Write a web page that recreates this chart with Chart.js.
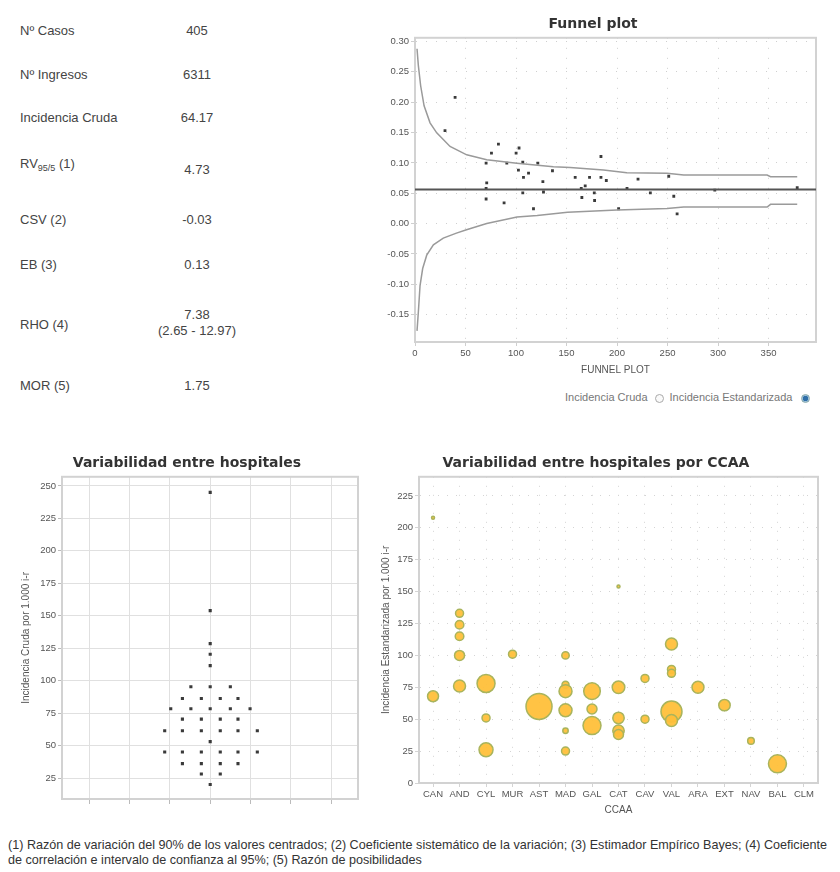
<!DOCTYPE html>
<html>
<head>
<meta charset="utf-8">
<script src="https://cdn.jsdelivr.net/npm/chart.js@4"></script>
<style>
html,body{margin:0;padding:0;background:#fff;}
body{width:840px;height:872px;position:relative;overflow:hidden;font-family:"Liberation Sans",Arial,sans-serif;color:#444;}
.t{position:absolute;font-size:13px;line-height:16px;white-space:nowrap;}
.v{position:absolute;font-size:13px;line-height:16px;white-space:nowrap;width:120px;left:137px;text-align:center;}
canvas{position:absolute;}
#legend{position:absolute;left:565px;top:390px;font-size:11px;color:#777;white-space:nowrap;line-height:14px;}
.radio{display:inline-block;width:9px;height:9px;border-radius:50%;border:1px solid #aaa;vertical-align:-2px;margin:0 6px 0 7px;box-sizing:border-box;background:#fafafa;}
.radio.on{background:radial-gradient(circle,#2f6fa8 0 2.5px,#9fc0dd 3px);border-color:#8aa;}
#foot{position:absolute;left:8px;top:838px;font-size:12.6px;line-height:15px;color:#333;white-space:nowrap;}
sub{font-size:9px;vertical-align:-3px;}
</style>
</head>
<body>
<div class="t" style="left:20px;top:23px">Nº Casos</div><div class="v" style="top:23px">405</div>
<div class="t" style="left:20px;top:67px">Nº Ingresos</div><div class="v" style="top:67px">6311</div>
<div class="t" style="left:20px;top:110px">Incidencia Cruda</div><div class="v" style="top:110px">64.17</div>
<div class="t" style="left:20px;top:156px">RV<sub>95/5</sub> (1)</div><div class="v" style="top:162px">4.73</div>
<div class="t" style="left:20px;top:212px">CSV (2)</div><div class="v" style="top:212px">-0.03</div>
<div class="t" style="left:20px;top:257px">EB (3)</div><div class="v" style="top:257px">0.13</div>
<div class="t" style="left:20px;top:317px">RHO (4)</div><div class="v" style="top:307px">7.38<br>(2.65 - 12.97)</div>
<div class="t" style="left:20px;top:378px">MOR (5)</div><div class="v" style="top:378px">1.75</div>

<canvas id="funnel" width="460" height="380" style="left:370px;top:0px"></canvas>
<div id="legend">Incidencia Cruda<span class="radio"></span>Incidencia Estandarizada<span class="radio on" style="margin-left:9px"></span></div>

<canvas id="hosp" width="370" height="370" style="left:0px;top:440px"></canvas>
<canvas id="ccaa" width="460" height="380" style="left:374px;top:440px"></canvas>

<div id="foot">(1) Razón de variación del 90% de los valores centrados; (2) Coeficiente sistemático de la variación; (3) Estimador Empírico Bayes; (4) Coeficiente<br>de correlación e intervalo de confianza al 95%; (5) Razón de posibilidades</div>

<script>
// ---------- Funnel plot data ----------
const funnelX = [29.7, 39.7, 70.4, 71, 70.4, 70.4, 75.7, 82.6, 88.2, 90.9, 100.1, 103, 102.4, 106.7, 107.4, 106.7, 112.4, 117.3, 121.6, 126.6, 127.2, 136.1, 158.6, 164.6, 165.2, 168.5, 172.8, 177.5, 177.8, 184.1, 184.1, 189.4, 201.6, 209.9, 220.8, 233, 251.2, 256.2, 259.5, 296.8, 378.4];
const funnelY = [0.153, 0.208, 0.0995, 0.067, 0.058, 0.0405, 0.116, 0.131, 0.034, 0.0995, 0.116, 0.1245, 0.088, 0.101, 0.076, 0.0505, 0.083, 0.0245, 0.0995, 0.069, 0.052, 0.087, 0.076, 0.058, 0.043, 0.062, 0.076, 0.0505, 0.038, 0.1105, 0.076, 0.071, 0.0245, 0.058, 0.0733, 0.0505, 0.078, 0.045, 0.016, 0.055, 0.059];
const upperLimitX = [2, 3.3, 5.6, 9, 14.9, 21.5, 34.7, 51.2, 71, 100.8, 137, 153.6, 186.6, 209.7, 249.5, 266, 348.6, 352, 378.4];
const upperLimitY = [0.288, 0.2605, 0.227, 0.194, 0.166, 0.1495, 0.127, 0.1133, 0.105, 0.0995, 0.0938, 0.0922, 0.0883, 0.0839, 0.0828, 0.080, 0.080, 0.0772, 0.0772];
const lowerLimitX = [2, 3.3, 5, 7.6, 11.6, 18.2, 28, 41, 51, 71, 101, 121, 151, 200, 249.5, 266, 348.6, 352, 378.4];
const lowerLimitY = [-0.1767, -0.146, -0.102, -0.074, -0.052, -0.035, -0.024, -0.0157, -0.01, 0.0, 0.011, 0.0135, 0.0185, 0.0225, 0.025, 0.0272, 0.0272, 0.0317, 0.0317];
const funnelMean = 0.056;
const funnelXRange = [0, 397];
const funnelYRange = [-0.195, 0.306];

// ---------- Variabilidad entre hospitales ----------
const hospJitter = [0, 0, 0, 0, 0,
  -0.48, 0, 0.50,
  -0.69, -0.22, 0.25, 0.69,
  -0.98, -0.48, 0, 0.50, 0.99,
  -0.69, -0.22, 0.25, 0.69,
  -1.13, -0.69, -0.22, 0.25, 0.69, 1.17,
  0,
  -1.13, -0.69, -0.22, 0.25, 0.69, 1.17,
  -0.69, -0.22, 0.25, 0.69,
  -0.22, 0.25,
  0];
const hospIncidence = [245, 154, 128.6, 120.4, 111.7,
  95.4, 95.4, 95.4,
  86.4, 86.4, 86.4, 86.4,
  78.5, 78.5, 78.5, 78.5, 78.5,
  70.5, 70.5, 70.5, 70.5,
  61.5, 61.5, 61.5, 61.5, 61.5, 61.5,
  53.2,
  45.2, 45.2, 45.2, 45.2, 45.2, 45.2,
  36.2, 36.2, 36.2, 36.2,
  28.2, 28.2,
  20.2];
const hospYRange = [9, 257];
const hospXRange = [-3.68, 3.67];

// ---------- Variabilidad por CCAA ----------
const ccaaLabels = ['CAN', 'AND', 'CYL', 'MUR', 'AST', 'MAD', 'GAL', 'CAT', 'CAV', 'VAL', 'ARA', 'EXT', 'NAV', 'BAL', 'CLM'];
const bubbleRegion = [0, 0, 1, 1, 1, 1, 1, 2, 2, 2, 3, 4, 5, 5, 5, 5, 5, 5, 6, 6, 6, 7, 7, 7, 7, 7, 8, 8, 9, 9, 9, 9, 9, 10, 11, 12, 13];
const bubbleValue = [208, 68, 133, 124, 115, 100, 76, 78, 51, 26, 101, 60, 100, 77, 72, 57, 41, 25, 72, 58, 45, 154, 75, 51, 41, 38, 82, 50, 109, 89, 86, 56, 49, 75, 61, 33, 15];
const bubbleRadius = [1.5, 5.5, 4, 4.3, 4.3, 5, 6, 9, 4, 7, 4, 13, 3.7, 3.5, 6.5, 6.5, 2.7, 4, 8.3, 5, 9, 1.5, 6.3, 5.7, 5.7, 5, 4, 4, 6, 4, 4, 10.5, 6, 6, 5.7, 3.3, 9];
const ccaaYRange = [0, 240];

// ---------- common ----------
const tickFont = {family: '"Liberation Sans", Arial, sans-serif', size: 9.5};
const titleFont = {family: '"DejaVu Sans", Verdana, sans-serif', size: 14, weight: 'bold'};
const axisTitleFont = {family: '"Liberation Sans", Arial, sans-serif', size: 10};

const framePlugin = {
  id: 'frame',
  beforeDatasetsDraw(chart) {
    const a = chart.chartArea, ctx = chart.ctx;
    ctx.save();
    ctx.strokeStyle = '#d2d2d2';
    ctx.lineWidth = 2;
    ctx.strokeRect(a.left, a.top, a.right - a.left, a.bottom - a.top);
    ctx.restore();
  }
};

function zip(xs, ys) { return xs.map((x, i) => ({x: x, y: ys[i]})); }

// Funnel plot
new Chart(document.getElementById('funnel'), {
  type: 'scatter',
  data: {
    datasets: [
      {data: zip(funnelXRange, [funnelMean, funnelMean]), showLine: true, borderColor: '#555', borderWidth: 2, pointRadius: 0},
      {data: zip(upperLimitX, upperLimitY), showLine: true, borderColor: '#9a9a9a', borderWidth: 1.5, pointRadius: 0},
      {data: zip(lowerLimitX, lowerLimitY), showLine: true, borderColor: '#9a9a9a', borderWidth: 1.5, pointRadius: 0},
      {data: zip(funnelX, funnelY), pointRadius: 2, pointBackgroundColor: '#3a3a3a', pointBorderColor: '#3a3a3a', pointBorderWidth: 0, pointStyle: 'rect'}
    ]
  },
  options: {
    responsive: false, animation: false, devicePixelRatio: 1,
    layout: {padding: {left: 0, right: 14, top: 0, bottom: 0}},
    plugins: {
      legend: {display: false}, tooltip: {enabled: false},
      title: {display: true, text: 'Funnel plot', font: titleFont, color: '#333', padding: {top: 16, bottom: 5}}
    },
    scales: {
      x: {
        type: 'linear', min: funnelXRange[0], max: funnelXRange[1],
        ticks: {stepSize: 50, includeBounds: false, font: tickFont, color: '#555', padding: 2, maxRotation: 0},
        grid: {color: '#cfcfcf', tickLength: 4, drawOnChartArea: true},
        border: {color: '#cfcfcf', dash: [1, 9]},
        title: {display: true, text: 'FUNNEL PLOT', font: axisTitleFont, color: '#555', padding: {top: 2, bottom: 4}},
        afterFit(s) { s.height = 38; }
      },
      y: {
        type: 'linear', min: funnelYRange[0], max: funnelYRange[1],
        ticks: {stepSize: 0.05, includeBounds: false, font: tickFont, color: '#555', padding: 2, callback: v => v.toFixed(2)},
        grid: {color: '#cfcfcf', tickLength: 4},
        border: {color: '#cfcfcf', dash: [1, 9]},
        afterFit(s) { s.width = 45; }
      }
    }
  },
  plugins: [framePlugin]
});

// Variabilidad entre hospitales
new Chart(document.getElementById('hosp'), {
  type: 'scatter',
  data: {
    datasets: [
      {data: zip(hospJitter, hospIncidence), pointRadius: 2.2, pointBackgroundColor: '#3a3a3a', pointBorderColor: '#3a3a3a', pointBorderWidth: 0, pointStyle: 'rect'}
    ]
  },
  options: {
    responsive: false, animation: false, devicePixelRatio: 1,
    layout: {padding: {left: 16, right: 12, top: 0, bottom: 0}},
    plugins: {
      legend: {display: false}, tooltip: {enabled: false},
      title: {display: true, text: 'Variabilidad entre hospitales', font: titleFont, color: '#333', padding: {top: 15, bottom: 5}}
    },
    scales: {
      x: {
        type: 'linear', min: hospXRange[0], max: hospXRange[1],
        ticks: {stepSize: 1, includeBounds: false, display: false},
        grid: {color: '#e0e0e0', tickLength: 5, tickColor: '#bbb'},
        border: {color: '#aaa', width: 2},
        afterFit(s) { s.height = 11; }
      },
      y: {
        type: 'linear', min: hospYRange[0], max: hospYRange[1],
        ticks: {stepSize: 25, includeBounds: false, font: tickFont, color: '#555', padding: 2},
        grid: {color: '#e0e0e0', tickLength: 4, tickColor: '#bbb'},
        border: {color: '#aaa', width: 2},
        title: {display: true, text: 'Incidencia Cruda por 1.000 i-r', font: axisTitleFont, color: '#555', padding: {top: 4, bottom: 2}},
        afterFit(s) { s.width = 46; }
      }
    }
  },
  plugins: [framePlugin]
});

// Variabilidad entre hospitales por CCAA
new Chart(document.getElementById('ccaa'), {
  type: 'bubble',
  data: {
    datasets: [{
      data: bubbleRegion.map((r, i) => ({x: r, y: bubbleValue[i], r: bubbleRadius[i]})),
      backgroundColor: 'rgba(255,192,58,0.95)',
      borderColor: '#a9b45c',
      borderWidth: 1.5
    }]
  },
  options: {
    responsive: false, animation: false, devicePixelRatio: 1,
    layout: {padding: {left: 0, right: 16, top: 0, bottom: 0}},
    plugins: {
      legend: {display: false}, tooltip: {enabled: false},
      title: {display: true, text: 'Variabilidad entre hospitales por CCAA', font: titleFont, color: '#333', padding: {top: 15, bottom: 5}}
    },
    scales: {
      x: {
        type: 'linear', min: -0.53, max: ccaaLabels.length - 1 + 0.53,
        ticks: {stepSize: 1, includeBounds: false, font: tickFont, color: '#555', padding: 2, maxRotation: 0, autoSkip: false,
          callback: v => ccaaLabels[v] || ''},
        grid: {color: '#d4d4d4', tickLength: 4},
        border: {color: '#bbb', dash: [1, 8]},
        title: {display: true, text: 'CCAA', font: axisTitleFont, color: '#555', padding: {top: 2, bottom: 4}},
        afterFit(s) { s.height = 37; }
      },
      y: {
        type: 'linear', min: ccaaYRange[0], max: ccaaYRange[1],
        ticks: {stepSize: 25, includeBounds: false, font: tickFont, color: '#555', padding: 2},
        grid: {color: '#d4d4d4', tickLength: 4},
        border: {color: '#bbb', dash: [1, 8]},
        title: {display: true, text: 'Incidencia Estandarizada por 1.000 i-r', font: axisTitleFont, color: '#555', padding: {top: 6, bottom: 2}},
        afterFit(s) { s.width = 45; }
      }
    }
  },
  plugins: [framePlugin]
});
</script>
</body>
</html>
